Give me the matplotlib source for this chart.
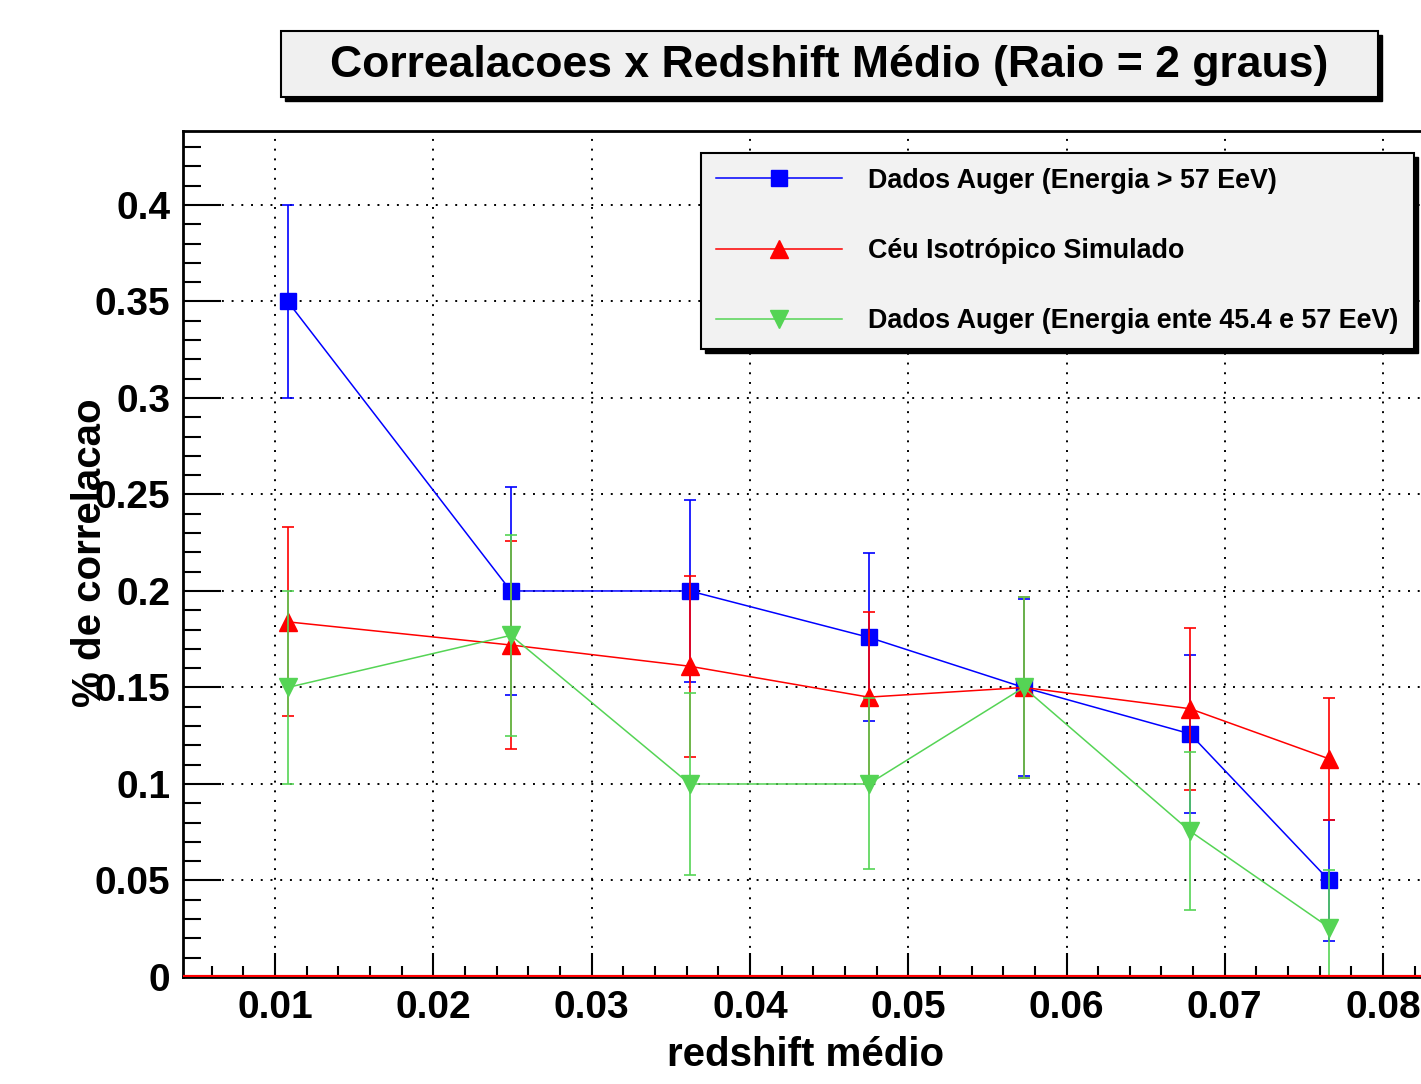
import matplotlib
matplotlib.use("Agg")
import matplotlib.pyplot as plt
from matplotlib.patches import Rectangle
from matplotlib.ticker import MultipleLocator, FixedFormatter, FixedLocator

# ---- data ----
redshift = [0.0108, 0.0249, 0.0362, 0.0475, 0.0573, 0.0678, 0.0766]
auger_hi = [0.35, 0.20, 0.20, 0.176, 0.15, 0.126, 0.05]
auger_hi_err = [0.05, 0.054, 0.047, 0.0435, 0.046, 0.041, 0.0315]
iso_sim = [0.184, 0.172, 0.161, 0.145, 0.15, 0.139, 0.113]
iso_sim_err = [0.049, 0.054, 0.047, 0.044, 0.047, 0.042, 0.0316]
auger_mid = [0.15, 0.177, 0.10, 0.10, 0.15, 0.0756, 0.0256]
auger_mid_err = [0.05, 0.052, 0.047, 0.0443, 0.047, 0.041, 0.03]

labels = ["Dados Auger (Energia > 57 EeV)",
          "Céu Isotrópico Simulado",
          "Dados Auger (Energia ente 45.4 e 57 EeV)"]
title = "Correalacoes x Redshift Médio (Raio = 2 graus)"
xlabel = "redshift médio"
ylabel = "% de correlacao"
xticks = [0.01, 0.02, 0.03, 0.04, 0.05, 0.06, 0.07, 0.08]
xticklabels = ["0.01", "0.02", "0.03", "0.04", "0.05", "0.06", "0.07", "0.08"]
yticks = [0, 0.05, 0.1, 0.15, 0.2, 0.25, 0.3, 0.35, 0.4]
yticklabels = ["0", "0.05", "0.1", "0.15", "0.2", "0.25", "0.3", "0.35", "0.4"]

plt.rcParams['font.family'] = ['Liberation Sans', 'DejaVu Sans']
plt.rcParams['font.weight'] = 'bold'

W, H = 1421, 1084
fig = plt.figure(figsize=(W / 100, H / 100), dpi=100)
fig.patch.set_facecolor('white')

# axes in pixel layout
left_px, right_px, top_px, bot_px = 183, 1450, 131, 977
ax = fig.add_axes([left_px / W, 1 - bot_px / H, (right_px - left_px) / W, (bot_px - top_px) / H])
px_per_unit_x = 15830.0
xmin = 0.01 - (275 - left_px) / px_per_unit_x
xmax = xmin + (right_px - left_px) / px_per_unit_x
ax.set_xlim(xmin, xmax)
ax.set_ylim(0, 0.4383)

blue = '#0000ff'
red = '#ff0000'
green = '#55d455'

common = dict(capsize=4.5, elinewidth=1.2, capthick=1.2, linewidth=1.1, clip_on=True)
h1 = ax.errorbar(redshift, auger_hi, yerr=auger_hi_err, color=blue, marker='s', markersize=12,
                 zorder=3, **common)
h2 = ax.errorbar(redshift, iso_sim, yerr=iso_sim_err, color=red, marker='^', markersize=13,
                 zorder=4, **common)
h3 = ax.errorbar(redshift, auger_mid, yerr=auger_mid_err, color=green, marker='v', markersize=13,
                 zorder=5, **common)

ax.axhline(0, color=red, linewidth=3, zorder=6)

# ticks
ax.xaxis.set_major_locator(FixedLocator(xticks))
ax.xaxis.set_major_formatter(FixedFormatter(xticklabels))
ax.xaxis.set_minor_locator(MultipleLocator(0.002))
ax.yaxis.set_major_locator(FixedLocator(yticks))
ax.yaxis.set_major_formatter(FixedFormatter(yticklabels))
ax.yaxis.set_minor_locator(MultipleLocator(0.01))
ax.tick_params(axis='x', which='major', direction='in', length=17, width=1.5, pad=9, labelsize=28)
ax.tick_params(axis='x', which='minor', direction='in', length=8, width=1.5)
ax.tick_params(axis='y', which='major', direction='in', length=27, width=1.5, pad=9, labelsize=28)
ax.tick_params(axis='y', which='minor', direction='in', length=13, width=1.5)
for lab in ax.get_xticklabels() + ax.get_yticklabels():
    lab.set_fontweight('bold')

ax.grid(True, which='major', color='black', linestyle=(0, (1, 4)), linewidth=1.4)
ax.set_axisbelow(True)
for sp in ax.spines.values():
    sp.set_linewidth(2)
    sp.set_color('black')

# axis labels
fig.text(806 / W, 1 - 1055 / H, xlabel, ha='center', va='center', fontsize=29, fontweight='bold')
fig.text(90 / W, 1 - 553 / H, ylabel, ha='center', va='center', rotation=90, fontsize=29,
         fontweight='bold')

# title box with shadow
tx0, tx1, ty0, ty1 = 281, 1378, 31, 97
sh = 4
fig.patches.append(Rectangle(((tx0 + sh) / W, 1 - (ty1 + sh) / H), (tx1 - tx0) / W, (ty1 - ty0) / H,
                             transform=fig.transFigure, facecolor='black', edgecolor='black', zorder=1))
fig.patches.append(Rectangle((tx0 / W, 1 - ty1 / H), (tx1 - tx0) / W, (ty1 - ty0) / H,
                             transform=fig.transFigure, facecolor='#f0f0f0', edgecolor='black',
                             linewidth=1.5, zorder=2))
fig.text((tx0 + tx1) / 2 / W, 1 - 66 / H, title, ha='center', va='center', fontsize=32,
         fontweight='bold', zorder=3)

# legend (line + marker only, no error bars)
leg = ax.legend([h1[0], h2[0], h3[0]], labels, loc='upper left',
                bbox_to_anchor=(701 / W, 1 - 153 / H), bbox_transform=fig.transFigure,
                borderaxespad=0, fontsize=19.4, handlelength=4.7, handletextpad=0.96,
                borderpad=0.55, labelspacing=1.64, fancybox=False, framealpha=1,
                facecolor='#f2f2f2', edgecolor='black')
leg.get_frame().set_linewidth(1.5)
for t in leg.get_texts():
    t.set_fontweight('bold')
leg.set_zorder(10)

fig.canvas.draw()
bb = leg.get_window_extent()
inv = ax.transAxes.inverted()
(x0, y0), (x1, y1) = inv.transform([[bb.x0 + sh, bb.y0 - sh], [bb.x1 + sh, bb.y1 - sh]])
ax.add_patch(Rectangle((x0, y0), x1 - x0, y1 - y0, transform=ax.transAxes,
                       facecolor='black', edgecolor='black', zorder=9, clip_on=False))

fig.savefig('out.png', dpi=100)
